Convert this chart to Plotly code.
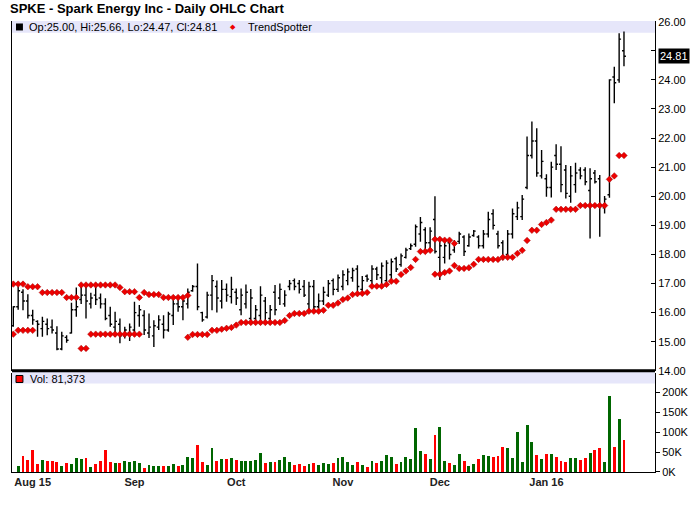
import pandas as pd
import plotly.graph_objects as go

# SPKE daily bars, 28 Jul 2015 - 27 Jan 2016
holidays = ["2015-09-07", "2015-11-26", "2015-12-25", "2016-01-01", "2016-01-18"]
dates = pd.bdate_range("2015-07-28", "2016-01-27", freq="C", holidays=holidays)
month_labels = ["Aug 15", "Sep", "Oct", "Nov", "Dec", "Jan 16"]

opens = [
    15.55, 16.20, 16.70, 16.40, 15.90, 15.70, 15.45, 15.60, 15.50, 15.30,
    14.75, 15.15, 15.30, 16.10, 16.45, 16.60, 16.30, 16.60, 16.50, 16.30,
    15.90, 15.50, 15.60, 15.20, 15.30, 15.40, 15.90, 15.90, 15.30, 15.20,
    15.50, 15.60, 15.40, 15.90, 16.30, 16.20, 16.30, 16.75, 16.90, 16.00,
    15.85, 16.60, 16.90, 16.40, 16.80, 16.55, 16.70, 16.10, 16.30, 15.80,
    15.80, 15.90, 16.40, 15.80, 16.70, 16.50, 16.30, 16.90, 17.10, 17.00,
    16.90, 16.30, 16.90, 16.20, 16.40, 16.60, 17.10, 16.80, 16.90, 17.10,
    17.20, 17.50, 16.80, 17.25, 17.10, 17.50, 17.20, 17.10, 17.30, 17.85,
    17.65, 17.90, 18.20, 18.35, 18.70, 18.85, 18.40, 19.20, 17.90, 17.90,
    18.40, 18.15, 18.45, 18.60, 18.30, 18.65, 18.60, 18.30, 18.70, 19.40,
    18.70, 18.40, 18.00, 18.70, 19.30, 19.30, 20.30, 21.40, 21.90, 20.70,
    20.60, 20.30, 21.40, 21.10, 20.90, 20.00, 20.40, 20.90, 20.90, 20.20,
    20.80, 20.60, 19.60, 20.05, 24.10, 24.00, 25.00,
]
highs = [
    16.22, 16.90, 16.80, 16.63, 16.10, 15.74, 15.86, 15.80, 15.76, 15.53,
    15.34, 15.22, 16.34, 16.86, 16.89, 17.00, 16.68, 16.90, 16.66, 16.49,
    16.20, 16.03, 15.80, 15.51, 15.63, 16.37, 16.26, 16.08, 15.97, 15.74,
    15.91, 15.91, 16.03, 16.43, 16.49, 16.54, 16.83, 16.95, 17.69, 16.03,
    16.72, 17.29, 17.10, 17.12, 17.00, 17.23, 16.83, 16.83, 16.97, 16.81,
    16.26, 16.91, 16.54, 16.26, 16.95, 17.00, 16.77, 17.12, 17.17, 17.12,
    17.12, 17.06, 17.12, 16.66, 16.89, 17.12, 17.17, 17.31, 17.46, 17.52,
    17.54, 17.63, 17.26, 17.31, 17.63, 17.58, 17.72, 17.80, 17.86, 17.92,
    18.03, 18.23, 18.38, 19.03, 19.29, 18.93, 18.93, 20.00, 18.55, 18.55,
    18.52, 18.49, 18.78, 18.66, 18.72, 18.84, 18.66, 18.84, 19.47, 19.55,
    18.81, 18.49, 18.84, 19.58, 19.81, 20.04, 22.05, 22.57, 22.34, 21.59,
    20.76, 21.19, 21.79, 21.72, 21.07, 21.04, 21.15, 21.00, 21.00, 20.96,
    20.90, 20.73, 20.01, 24.02, 24.45, 25.60, 25.66,
]
lows = [
    15.51, 16.10, 16.08, 15.80, 15.58, 15.17, 15.17, 15.22, 15.28, 14.71,
    14.71, 14.96, 15.28, 15.86, 16.30, 15.80, 16.14, 16.26, 16.14, 15.74,
    15.51, 15.17, 14.95, 15.11, 15.02, 15.28, 15.51, 15.23, 15.13, 14.82,
    15.40, 15.11, 15.34, 15.57, 16.03, 15.74, 16.14, 16.72, 16.08, 15.69,
    15.80, 16.08, 16.00, 16.14, 16.37, 16.31, 16.26, 15.91, 16.14, 15.57,
    15.69, 15.57, 15.69, 15.57, 15.91, 16.26, 16.20, 16.77, 16.77, 16.66,
    16.54, 16.03, 16.09, 16.14, 16.26, 16.54, 16.60, 16.71, 16.77, 16.94,
    17.06, 16.74, 16.66, 17.06, 16.94, 17.12, 16.94, 16.97, 17.06, 17.40,
    17.58, 17.86, 18.15, 18.26, 18.44, 18.09, 18.20, 18.03, 17.12, 17.69,
    17.83, 18.06, 18.36, 17.95, 18.26, 18.61, 18.20, 18.20, 18.58, 18.86,
    18.20, 17.80, 17.92, 18.55, 19.18, 19.18, 20.24, 21.30, 20.67, 20.61,
    19.98, 19.96, 20.90, 20.14, 19.92, 19.78, 20.12, 20.58, 20.38, 18.55,
    20.44, 18.61, 19.41, 19.95, 23.20, 23.90, 24.47,
]
closes = [
    16.20, 16.75, 16.40, 15.90, 15.75, 15.60, 15.70, 15.45, 15.40, 14.75,
    15.20, 15.05, 16.10, 16.20, 16.60, 16.40, 16.50, 16.45, 16.30, 15.80,
    15.60, 15.70, 15.20, 15.40, 15.50, 16.00, 16.10, 15.40, 15.50, 15.55,
    15.75, 15.40, 15.95, 16.30, 16.20, 16.40, 16.70, 16.90, 16.20, 15.75,
    16.60, 17.10, 16.50, 16.80, 16.60, 16.80, 16.50, 16.60, 16.70, 16.50,
    16.10, 16.60, 16.00, 16.10, 16.10, 16.80, 16.60, 17.00, 16.90, 16.80,
    16.60, 16.90, 16.20, 16.40, 16.70, 17.00, 16.80, 17.20, 17.30, 17.40,
    17.45, 16.90, 17.10, 17.15, 17.50, 17.30, 17.60, 17.70, 17.75, 17.50,
    17.95, 18.15, 18.30, 18.95, 19.10, 18.40, 18.80, 18.10, 18.30, 18.30,
    18.00, 18.40, 18.70, 18.10, 18.60, 18.80, 18.30, 18.70, 19.20, 19.00,
    18.30, 17.90, 18.70, 19.40, 19.60, 19.90, 21.40, 21.90, 20.80, 21.20,
    20.30, 21.00, 21.10, 20.40, 20.10, 20.70, 20.80, 20.70, 20.50, 20.60,
    20.50, 19.70, 19.90, 24.00, 23.90, 25.40, 24.81,
]
volumes = [
    0, 15000, 40000, 30000, 55000, 20000, 30000, 28000, 28000, 25000,
    15000, 23000, 20000, 35000, 33000, 35000, 13000, 20000, 28000, 55000,
    25000, 23000, 23000, 28000, 25000, 28000, 23000, 10000, 18000, 15000,
    15000, 15000, 15000, 20000, 15000, 18000, 38000, 35000, 68000, 25000,
    18000, 60000, 28000, 33000, 33000, 35000, 30000, 28000, 28000, 28000,
    30000, 48000, 23000, 25000, 25000, 30000, 38000, 25000, 18000, 20000,
    15000, 20000, 23000, 18000, 23000, 20000, 23000, 35000, 38000, 25000,
    18000, 25000, 18000, 13000, 28000, 23000, 28000, 43000, 38000, 20000,
    25000, 38000, 33000, 111000, 53000, 45000, 33000, 93000, 113000, 28000,
    23000, 18000, 45000, 28000, 15000, 20000, 33000, 43000, 40000, 38000,
    40000, 63000, 60000, 35000, 101000, 25000, 118000, 76000, 43000, 33000,
    45000, 45000, 38000, 28000, 25000, 35000, 35000, 30000, 35000, 48000,
    55000, 60000, 25000, 191000, 63000, 134000, 81373,
]

# TrendSpotter dots: lower row and the upper row where it is drawn
trend_low = (
    [15.26, 15.39, 15.39, 15.39, 15.39]
    + [None] * 9
    + [14.77, 14.77]
    + [15.26, 15.26, 15.26, 15.26, 15.26, 15.26, 15.26, 15.26, 15.26, 15.26, 15.26]
    + [None] * 9
    + [15.15, 15.25, 15.25, 15.25, 15.25, 15.39, 15.39, 15.43, 15.46, 15.49, 15.57]
    + [15.66, 15.66, 15.66, 15.66, 15.66, 15.66, 15.66, 15.66, 15.66, 15.73, 15.90]
    + [15.97, 15.97, 15.97, 16.05, 16.05, 16.05, 16.08, 16.25, 16.25]
    + [16.33, 16.45, 16.50, 16.62, 16.65, 16.66, 16.69, 16.91, 16.91, 16.91]
    + [16.97, 17.08, 17.08, 17.31, 17.43, 17.55, 17.83, 18.10, 18.10, 18.14]
    + [17.32, 17.32, 17.38, 17.43, 17.62, 17.52, 17.52, 17.54, 17.66]
    + [17.83, 17.83, 17.83, 17.83, 17.83, 17.90, 17.90, 17.90, 18.03, 18.14, 18.48]
    + [18.83, 18.83, 19.03, 19.10, 19.18, 19.55, 19.55, 19.55, 19.55, 19.55]
    + [19.68, 19.68, 19.68, 19.68, 19.68, 19.68, 20.58, 20.70, 21.40, 21.40]
)
trend_high = (
    [16.98, 16.98, 16.98, 16.89, 16.89, 16.89, 16.69, 16.69, 16.69, 16.69, 16.69]
    + [16.52, 16.52, 16.52, 16.95, 16.95, 16.95, 16.95, 16.95, 16.95, 16.95, 16.95]
    + [16.86, 16.72, 16.72, 16.72, 16.52, 16.69, 16.62, 16.62, 16.62]
    + [16.52, 16.52, 16.52, 16.52, 16.52, 16.59]
    + [None] * 50
    + [18.52, 18.52, 18.49, 18.49, 18.38]
    + [None] * 35
)

x = [d.strftime("%Y-%m-%d") for d in dates]
s = pd.Series(dates)
month_first = s.groupby(s.dt.to_period("M")).first().iloc[1:]
tick_vals = [d.strftime("%Y-%m-%d") for d in month_first]

vol_colors = ["#006600" if c >= o else "#ff0000" for o, c in zip(opens, closes)]

# price ticks; the label next to the last-close badge is left blank
price_ticks = list(range(14, 27))
price_text = ["" if abs(p - closes[-1]) < 0.4 else "%.2f" % p for p in price_ticks]

fig = go.Figure()

fig.add_trace(
    go.Ohlc(
        x=x,
        open=opens,
        high=highs,
        low=lows,
        close=closes,
        increasing=dict(line=dict(color="black", width=1.4)),
        decreasing=dict(line=dict(color="black", width=1.4)),
        tickwidth=0.4,
        showlegend=False,
    )
)

dot_style = dict(symbol="diamond", size=5, color="#ee0000", line=dict(color="#a00000", width=0.5))
for trend in (trend_low, trend_high):
    fig.add_trace(
        go.Scatter(x=x, y=trend, mode="markers", marker=dot_style, showlegend=False)
    )

fig.add_trace(
    go.Bar(
        x=x,
        y=volumes,
        marker=dict(color=vol_colors, line=dict(width=0)),
        width=0.6,
        yaxis="y2",
        showlegend=False,
    )
)

font = "Liberation Sans, Arial, sans-serif"

fig.update_layout(
    width=700,
    height=512,
    margin=dict(l=11, r=42, t=21, b=40),
    paper_bgcolor="white",
    plot_bgcolor="white",
    font=dict(family=font, size=11, color="black"),
    title=dict(
        text="<b>SPKE - Spark Energy Inc - Daily OHLC Chart</b>",
        x=10 / 700,
        xref="container",
        xanchor="left",
        y=1 - 8 / 512,
        yref="container",
        yanchor="middle",
        font=dict(size=13, color="black"),
    ),
    bargap=0,
    xaxis=dict(
        type="category",
        range=[-0.27, 132.4],
        rangeslider=dict(visible=False),
        anchor="y2",
        showline=True,
        linecolor="black",
        linewidth=1,
        showgrid=False,
        zeroline=False,
        ticks="",
        tickvals=tick_vals,
        ticktext=["<b>%s</b>" % t for t in month_labels],
        tickfont=dict(size=11, color="#222222"),
    ),
    yaxis=dict(
        domain=[0.2244, 1],
        range=[14, 26.024],
        side="right",
        tickvals=price_ticks,
        ticktext=price_text,
        ticks="inside",
        ticklen=4,
        tickcolor="black",
        showline=True,
        mirror=True,
        linecolor="black",
        showgrid=False,
        zeroline=False,
        tickfont=dict(size=11),
    ),
    yaxis2=dict(
        domain=[0, 0.2195],
        range=[0, 248400],
        side="right",
        anchor="x",
        tickvals=[0, 50000, 100000, 150000, 200000],
        ticktext=["0K", "50K", "100K", "150K", "200K"],
        ticks="outside",
        ticklen=4,
        tickcolor="black",
        showline=True,
        mirror=True,
        linecolor="black",
        showgrid=False,
        zeroline=False,
        tickfont=dict(size=11),
    ),
)

# header bands and panel separator
band = "#e6e6fa"
fig.add_shape(type="rect", xref="paper", yref="paper", x0=0, x1=1, y0=0.974, y1=1,
              fillcolor=band, line=dict(width=0), layer="below")
fig.add_shape(type="rect", xref="paper", yref="paper", x0=0, x1=1, y0=0.1962, y1=0.2217,
              fillcolor=band, line=dict(width=0), layer="below")
fig.add_shape(type="line", xref="paper", yref="paper", x0=0, x1=1, y0=0.2244, y1=0.2244,
              line=dict(color="black", width=3))

# legend squares
fig.add_shape(type="rect", xref="paper", yref="paper", x0=0.0062, x1=0.017, y0=0.979, y1=0.9945,
              fillcolor="black", line=dict(width=0))
fig.add_shape(type="rect", xref="paper", yref="paper", x0=0.0062, x1=0.017, y0=0.1984, y1=0.214,
              fillcolor="#ff0000", line=dict(color="black", width=1))

fig.add_annotation(
    x=0.0232, y=0.987, xref="paper", yref="paper", xanchor="left", yanchor="middle",
    text="Op:%.2f, Hi:%.2f, Lo:%.2f, Cl:%.2f" % (opens[-1], highs[-1], lows[-1], closes[-1]),
    showarrow=False, font=dict(size=11),
)
fig.add_annotation(
    x=(233 - 11) / 647, y=0.987, xref="paper", yref="paper", xanchor="center", yanchor="middle",
    text="◆", showarrow=False, font=dict(size=7, color="#ee0000"),
)
fig.add_annotation(
    x=(246 - 11) / 647, y=0.987, xref="paper", yref="paper", xanchor="left", yanchor="middle",
    text="TrendSpotter", showarrow=False, font=dict(size=11),
)
fig.add_annotation(
    x=0.0247, y=0.2062, xref="paper", yref="paper", xanchor="left", yanchor="middle",
    text="Vol: {:,}".format(volumes[-1]), showarrow=False, font=dict(size=11),
)

# last close badge on the price axis
fig.add_annotation(
    x=1, y=closes[-1], xref="paper", yref="y", xanchor="left", yanchor="middle", xshift=3,
    text="%.2f" % closes[-1], showarrow=False, bgcolor="black", borderpad=1,
    font=dict(size=11, color="white"),
)

# page body margin would shift the 700x512 figure inside the window
fig.write_html(
    "out.html",
    config={"displayModeBar": False},
    post_script="document.body.style.margin = '0';",
)
